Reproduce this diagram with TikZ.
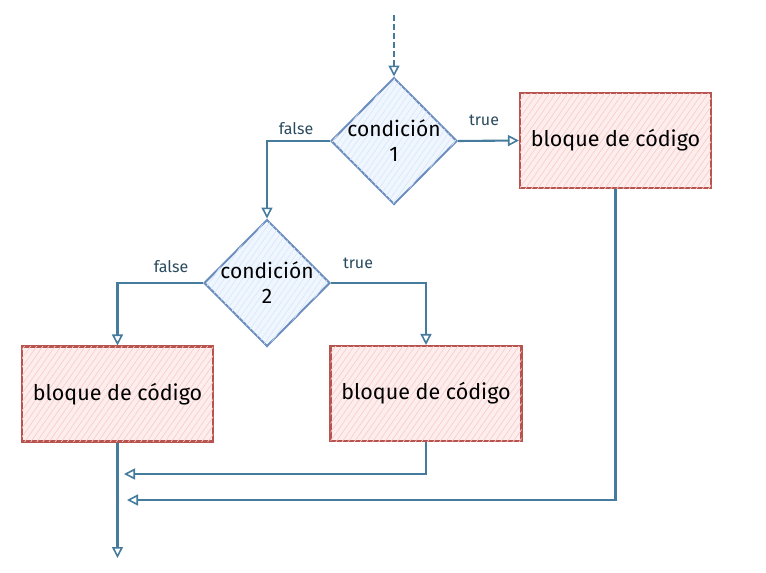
\documentclass[tikz,border=0pt]{standalone}
\usepackage{fontspec}
\setmainfont{Fira Sans}
\usetikzlibrary{shapes.geometric,arrows.meta,patterns.meta}
\definecolor{arrowc}{HTML}{457B9D}
\definecolor{dstroke}{HTML}{6C8EBF}
\definecolor{dfill}{HTML}{DAE8FC}
\definecolor{bstroke}{HTML}{B85450}
\definecolor{bfill}{HTML}{F8CECC}
\tikzset{
  cond/.style={diamond, draw=dstroke, line width=2pt, fill=dfill!40,
    postaction={pattern={Lines[angle=55,distance=5pt,line width=0.7pt]}, pattern color=dfill},
    minimum width=126pt, minimum height=127pt, inner sep=0pt},
  condtext/.style={align=center, inner sep=0pt, font=\fontsize{21}{25}\selectfont},
  blk/.style={rectangle, draw=bstroke, line width=2.1pt, fill=bfill!35,
    postaction={pattern={Lines[angle=55,distance=5pt,line width=0.7pt]}, pattern color=bfill},
    minimum width=191pt, minimum height=95pt, inner sep=0pt,
    font=\fontsize{21.5}{25}\selectfont},
  tipc/.tip={Triangle[open,length=11pt,width=11pt,line width=1.6pt]},
  conn/.style={draw=arrowc, line width=2.1pt, -tipc},
  lbl/.style={text=arrowc!60!black, font=\fontsize{16}{18}\selectfont, inner sep=0pt}
}
\begin{document}
\begin{tikzpicture}[x=1pt,y=-1pt]
\useasboundingbox (0,0) rectangle (766,573);
\node[cond] (d1) at (394,141) {};
\node[condtext] (d1t) at (d1.center) {condición\\1};
\node[cond] (d2) at (267,283) {};
\node[condtext] (d2t) at (d2.center) {condición\\2};
\node[blk] (bR) at (615.5,140.5) {bloque de código};
\node[blk] (bL) at (117.5,394) {bloque de código};
\node[blk] (bM) at (426,393.5) {bloque de código};
\coordinate (start) at (394,15);
\coordinate (m1) at (124,474);
\coordinate (m2) at (127,500);
\coordinate (fin) at (117.5,558);
\draw[conn, dash pattern=on 6pt off 3pt] (start) -- (d1.north);
\draw[conn] (d1.east) -- (bR.west);
\draw[conn] (d1.west) -| (d2.north);
\draw[conn] (d2.west) -| (bL.north);
\draw[conn] (d2.east) -| (bM.north);
\draw[conn] (bM.south) |- (m1);
\draw[conn] (bR.south) |- (m2);
\draw[conn] (bL.south) -- (fin);
\node[lbl] (l1) at (296,129) {false};
\node[lbl] (l2) at (484,120) {true};
\node[lbl] (l3) at (171,267) {false};
\node[lbl] (l4) at (358,263) {true};
\end{tikzpicture}
\end{document}
